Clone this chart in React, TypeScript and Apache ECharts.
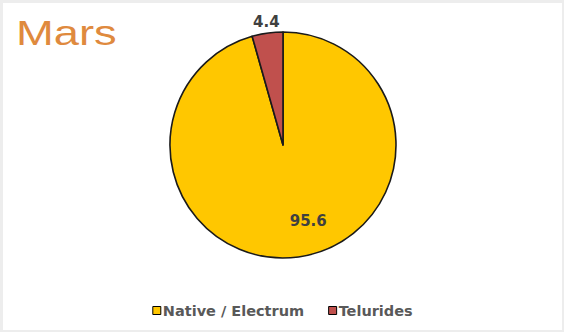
import React, { useEffect, useRef } from "react";
import * as echarts from "echarts";

// Gold deposit mineral split for the Mars district (percent)
const categories = ["Native / Electrum", "Telurides"];
const values = [95.6, 4.4];
const colors = ["#FFC700", "#C0504D"];
const titleText = "Mars";

const W = 564;
const H = 332;

export default function App() {
  const ref = useRef<HTMLDivElement | null>(null);

  useEffect(() => {
    if (!ref.current) return;
    const chart = echarts.init(ref.current, undefined, { renderer: "svg" });

    const data = categories.map((name, i) => ({
      name,
      value: values[i],
      itemStyle: { color: colors[i] },
      label:
        i === 0
          ? { position: "inside" as const, offset: [17, 17] }
          : { position: "outside" as const, offset: [18, -5] },
    }));

    chart.setOption({
      animation: false,
      backgroundColor: "#ffffff",
      graphic: [
        {
          type: "text",
          x: 13,
          y: 12,
          scaleX: 1.26,
          style: {
            text: titleText,
            fontSize: 36,
            fontFamily: "Liberation Sans",
            fill: "#DF8A3E",
          },
        },
      ],
      legend: {
        data: categories,
        left: "center",
        top: 295,
        icon: "rect",
        itemWidth: 8,
        itemHeight: 8,
        itemGap: 24,
        itemStyle: { borderColor: "#000000", borderWidth: 1 },
        textStyle: {
          fontFamily: "DejaVu Sans",
          fontWeight: "bold",
          fontSize: 14.5,
          color: "#595959",
          padding: [0, 0, 0, -3],
        },
      },
      series: [
        {
          type: "pie",
          center: [280, 142],
          radius: 113,
          startAngle: 90,
          clockwise: true,
          itemStyle: { borderColor: "#1a1a1a", borderWidth: 1.6 },
          label: {
            show: true,
            formatter: "{c}",
            fontFamily: "DejaVu Sans",
            fontWeight: "bold",
            fontSize: 15,
            color: "#404040",
          },
          labelLine: { show: false, length: 6, length2: 0 },
          emphasis: { disabled: true },
          data,
        },
      ],
    });

    return () => chart.dispose();
  }, []);

  return (
    <div
      style={{
        position: "fixed",
        left: 0,
        top: 0,
        width: W,
        height: H,
        boxSizing: "border-box",
        borderStyle: "solid",
        borderColor: "#ededed",
        borderWidth: "3px 2px 2px 3px",
        background: "#ffffff",
      }}
    >
      <div ref={ref} style={{ width: W - 5, height: H - 5 }} />
    </div>
  );
}
